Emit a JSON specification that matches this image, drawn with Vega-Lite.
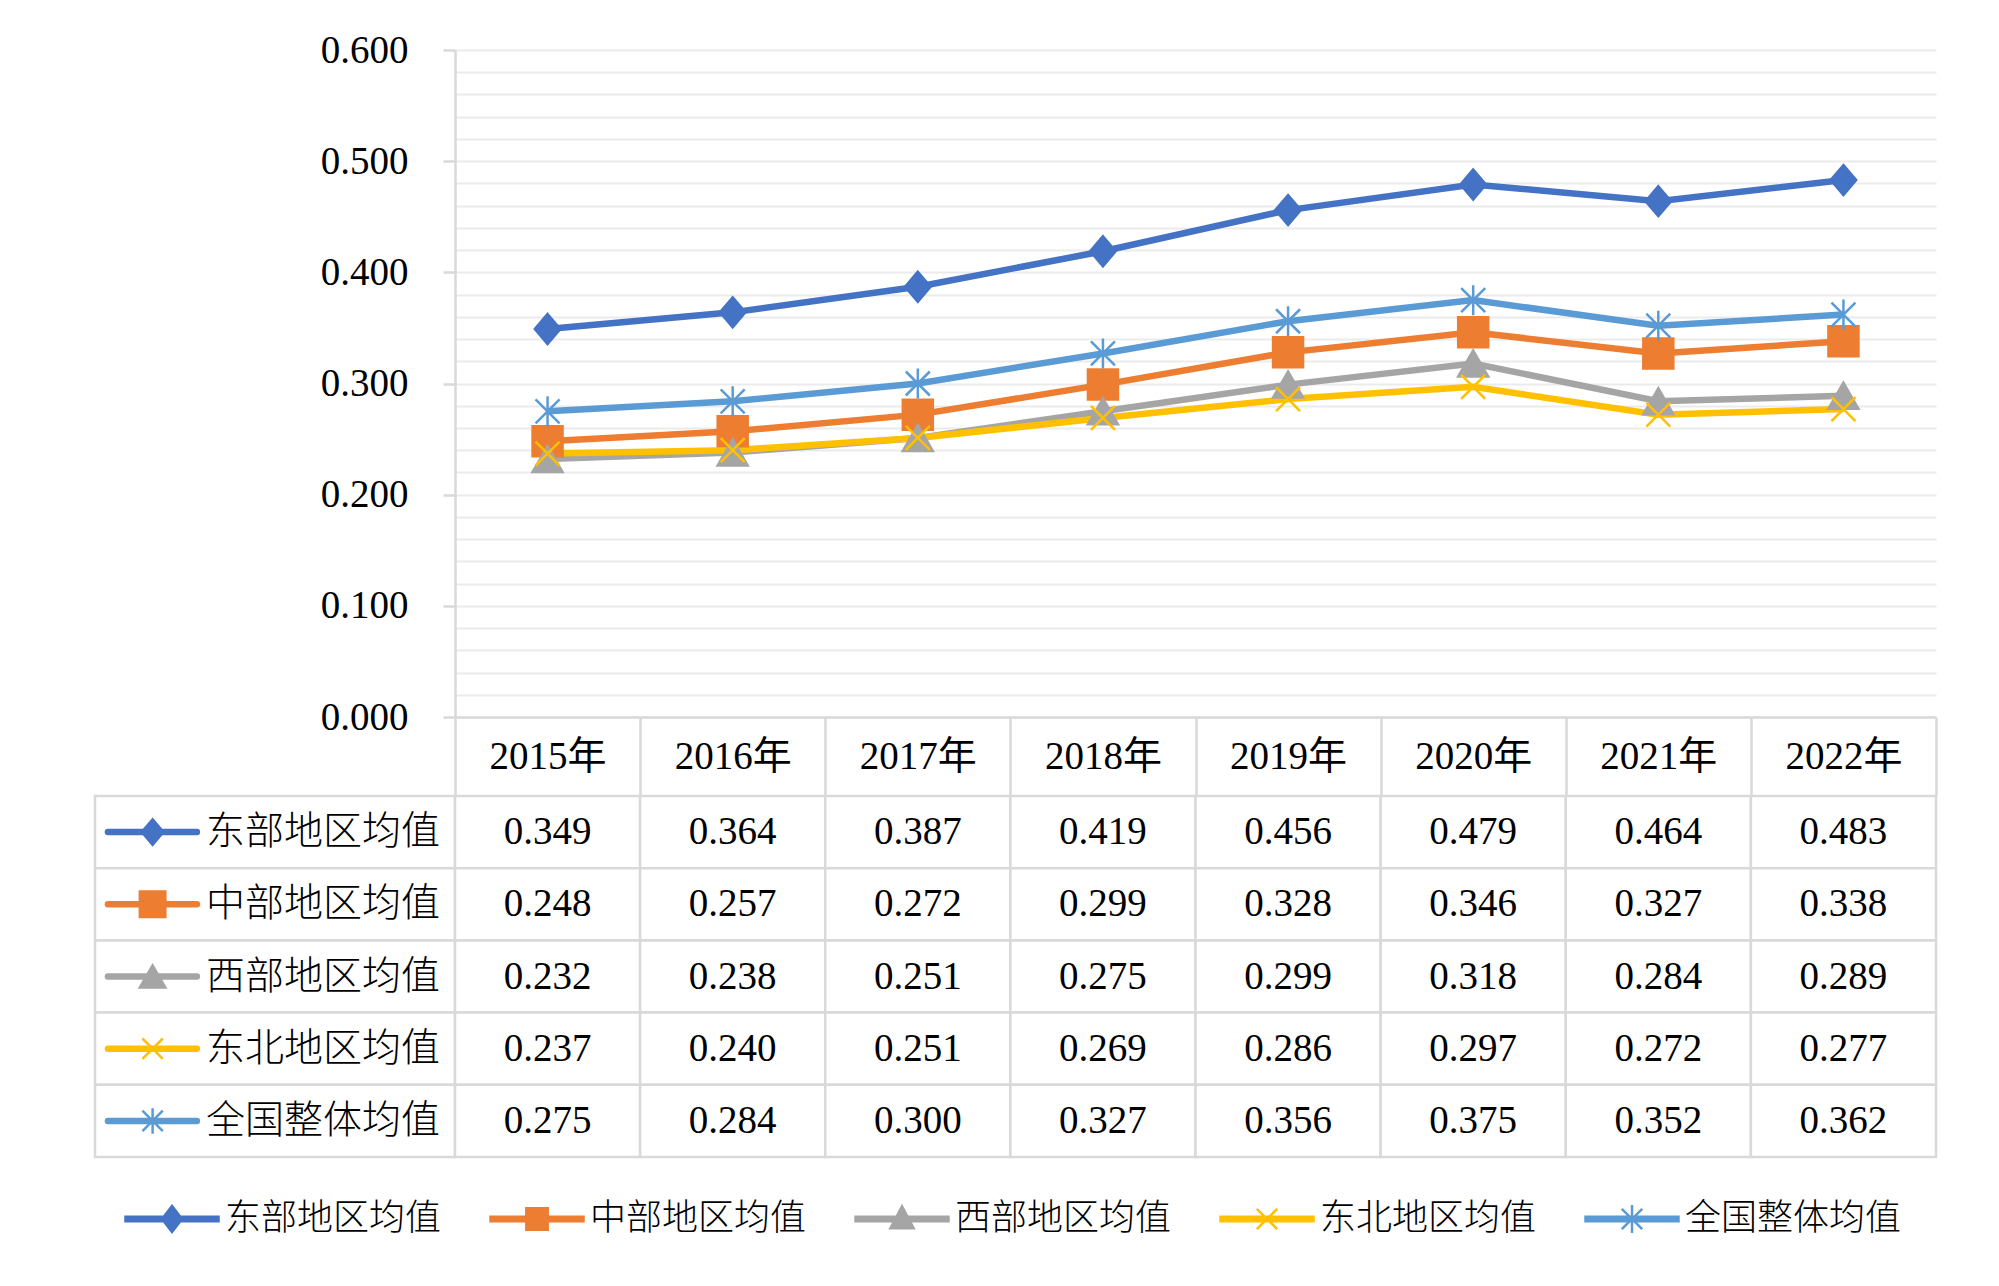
{
  "$schema": "https://vega.github.io/schema/vega-lite/v6.json",
  "background": "white",
  "padding": {"left": 93, "top": 31, "right": 65, "bottom": 38},
  "bounds": "full",
  "spacing": 30,
  "datasets": {
    "vals": [
      {"year": "2015年", "series": "东部地区均值", "value": 0.349},
      {"year": "2016年", "series": "东部地区均值", "value": 0.364},
      {"year": "2017年", "series": "东部地区均值", "value": 0.387},
      {"year": "2018年", "series": "东部地区均值", "value": 0.419},
      {"year": "2019年", "series": "东部地区均值", "value": 0.456},
      {"year": "2020年", "series": "东部地区均值", "value": 0.479},
      {"year": "2021年", "series": "东部地区均值", "value": 0.464},
      {"year": "2022年", "series": "东部地区均值", "value": 0.483},
      {"year": "2015年", "series": "中部地区均值", "value": 0.248},
      {"year": "2016年", "series": "中部地区均值", "value": 0.257},
      {"year": "2017年", "series": "中部地区均值", "value": 0.272},
      {"year": "2018年", "series": "中部地区均值", "value": 0.299},
      {"year": "2019年", "series": "中部地区均值", "value": 0.328},
      {"year": "2020年", "series": "中部地区均值", "value": 0.346},
      {"year": "2021年", "series": "中部地区均值", "value": 0.327},
      {"year": "2022年", "series": "中部地区均值", "value": 0.338},
      {"year": "2015年", "series": "西部地区均值", "value": 0.232},
      {"year": "2016年", "series": "西部地区均值", "value": 0.238},
      {"year": "2017年", "series": "西部地区均值", "value": 0.251},
      {"year": "2018年", "series": "西部地区均值", "value": 0.275},
      {"year": "2019年", "series": "西部地区均值", "value": 0.299},
      {"year": "2020年", "series": "西部地区均值", "value": 0.318},
      {"year": "2021年", "series": "西部地区均值", "value": 0.284},
      {"year": "2022年", "series": "西部地区均值", "value": 0.289},
      {"year": "2015年", "series": "东北地区均值", "value": 0.237},
      {"year": "2016年", "series": "东北地区均值", "value": 0.240},
      {"year": "2017年", "series": "东北地区均值", "value": 0.251},
      {"year": "2018年", "series": "东北地区均值", "value": 0.269},
      {"year": "2019年", "series": "东北地区均值", "value": 0.286},
      {"year": "2020年", "series": "东北地区均值", "value": 0.297},
      {"year": "2021年", "series": "东北地区均值", "value": 0.272},
      {"year": "2022年", "series": "东北地区均值", "value": 0.277},
      {"year": "2015年", "series": "全国整体均值", "value": 0.275},
      {"year": "2016年", "series": "全国整体均值", "value": 0.284},
      {"year": "2017年", "series": "全国整体均值", "value": 0.300},
      {"year": "2018年", "series": "全国整体均值", "value": 0.327},
      {"year": "2019年", "series": "全国整体均值", "value": 0.356},
      {"year": "2020年", "series": "全国整体均值", "value": 0.375},
      {"year": "2021年", "series": "全国整体均值", "value": 0.352},
      {"year": "2022年", "series": "全国整体均值", "value": 0.362}
    ]
  },
  "resolve": {"scale": {"x": "independent", "y": "independent", "shape": "independent"}},
  "vconcat": [
    {
      "bounds": "flush",
      "columns": 2,
      "spacing": {"row": 79, "column": 0},
      "resolve": {"scale": {"x": "independent", "y": "independent"}},
      "concat": [
        {
          "width": 360,
          "height": 667,
          "data": {"values": [{"k": 0}]},
          "mark": {"type": "point", "opacity": 0},
          "encoding": {}
        },
        {
          "width": 1481,
          "height": 667,
          "data": {"name": "vals"},
          "encoding": {
            "x": {
              "field": "year", "type": "ordinal",
              "scale": {"type": "band", "paddingInner": 0, "paddingOuter": 0},
              "axis": {
                "title": null, "tickBand": "extent", "ticks": true, "tickSize": 79,
                "tickColor": "#d9d9d9", "tickWidth": 2.5, "domain": true, "domainColor": "#d9d9d9",
                "domainWidth": 2.5, "grid": false, "labelAngle": 0,
                "labelFont": "'Liberation Serif', 'Noto Sans CJK SC'", "labelFontSize": 39,
                "labelColor": "black", "labelPadding": -40, "labelBaseline": "middle"
              }
            },
            "y": {
              "field": "value", "type": "quantitative",
              "scale": {"domain": [0, 0.6], "nice": false},
              "axis": {
                "title": null,
                "values": [0, 0.02, 0.04, 0.06, 0.08, 0.1, 0.12, 0.14, 0.16, 0.18, 0.2, 0.22, 0.24, 0.26, 0.28, 0.3, 0.32, 0.34, 0.36, 0.38, 0.4, 0.42, 0.44, 0.46, 0.48, 0.5, 0.52, 0.54, 0.56, 0.58, 0.6],
                "grid": true, "gridColor": "#ebebeb", "gridWidth": 2,
                "domain": true, "domainColor": "#d9d9d9", "domainWidth": 2.5,
                "ticks": true, "tickColor": "#d9d9d9", "tickWidth": 2.5, "tickSize": 12,
                "tickOpacity": {"condition": {"test": "abs(datum.value*10 - round(datum.value*10)) < 0.001", "value": 1}, "value": 0},
                "labelExpr": "abs(datum.value*10 - round(datum.value*10)) < 0.001 ? format(datum.value, '.3f') : ''",
                "labelFont": "Liberation Serif", "labelFontSize": 39, "labelColor": "black",
                "labelPadding": 35, "labelOverlap": false, "labelFlush": false
              }
            },
            "color": {
              "field": "series", "type": "nominal",
              "scale": {
                "domain": ["东部地区均值", "中部地区均值", "西部地区均值", "东北地区均值", "全国整体均值"],
                "range": ["#4472C4", "#ED7D31", "#A5A5A5", "#FFC000", "#5B9BD5"]
              },
              "legend": null
            }
          },
          "layer": [
            {"mark": {"type": "line", "strokeWidth": 6.5}},
            {
              "mark": {"type": "point", "filled": true, "size": 900, "opacity": 1, "strokeWidth": 2.5},
              "encoding": {
                "shape": {
                  "field": "series", "type": "nominal",
                  "scale": {
                    "domain": ["东部地区均值", "中部地区均值", "西部地区均值", "东北地区均值", "全国整体均值"],
                    "range": ["M0,-1L0.85,0L0,1L-0.85,0Z", "square", "triangle-up", "M-0.8,-0.8L0.8,0.8M-0.8,0.8L0.8,-0.8", "M-0.8,-0.8L0.8,0.8M-0.8,0.8L0.8,-0.8M0,-1V1"]
                  },
                  "legend": null
                },
                "stroke": {
                  "field": "series", "type": "nominal",
                  "scale": {
                    "domain": ["东部地区均值", "中部地区均值", "西部地区均值", "东北地区均值", "全国整体均值"],
                    "range": ["#4472C4", "#ED7D31", "#A5A5A5", "#FFC000", "#5B9BD5"]
                  },
                  "legend": null
                }
              }
            }
          ]
        },
        {
          "width": 360,
          "height": 361,
          "data": {"name": "vals"},
          "transform": [{"filter": "datum.year === '2015年'"}],
          "encoding": {
            "y": {
              "field": "series", "type": "nominal",
              "scale": {"type": "band", "domain": ["东部地区均值", "中部地区均值", "西部地区均值", "东北地区均值", "全国整体均值"], "paddingInner": 0, "paddingOuter": 0},
              "axis": null
            }
          },
          "layer": [
            {
              "mark": {"type": "rect", "fill": "white", "stroke": "#d9d9d9", "strokeWidth": 2.5},
              "encoding": {
                "x": {"datum": 0, "type": "quantitative", "scale": {"domain": [0, 100], "nice": false, "zero": false}, "axis": null},
                "x2": {"datum": 100}
              }
            },
            {
              "mark": {"type": "rule", "strokeWidth": 6.5, "strokeCap": "round"},
              "encoding": {
                "x": {"datum": 3.6, "type": "quantitative", "scale": {"domain": [0, 100], "nice": false, "zero": false}, "axis": null},
                "x2": {"datum": 28.3},
                "color": {"field": "series", "type": "nominal", "legend": null}
              }
            },
            {
              "mark": {"type": "point", "filled": true, "size": 650, "opacity": 1, "strokeWidth": 2.5},
              "encoding": {
                "x": {"datum": 16, "type": "quantitative", "scale": {"domain": [0, 100], "nice": false, "zero": false}, "axis": null},
                "color": {"field": "series", "type": "nominal", "legend": null},
                "shape": {"field": "series", "type": "nominal", "legend": null},
                "stroke": {"field": "series", "type": "nominal", "legend": null}
              }
            },
            {
              "mark": {"type": "text", "align": "left", "baseline": "middle", "font": "Noto Sans CJK SC", "fontSize": 39, "fontWeight": 300, "color": "black"},
              "encoding": {
                "x": {"datum": 30.8, "type": "quantitative", "scale": {"domain": [0, 100], "nice": false, "zero": false}, "axis": null},
                "text": {"field": "series", "type": "nominal"}
              }
            }
          ]
        },
        {
          "width": 1481,
          "height": 361,
          "data": {"name": "vals"},
          "encoding": {
            "x": {"field": "year", "type": "ordinal", "scale": {"type": "band", "paddingInner": 0, "paddingOuter": 0}, "axis": null},
            "y": {
              "field": "series", "type": "nominal",
              "scale": {"type": "band", "domain": ["东部地区均值", "中部地区均值", "西部地区均值", "东北地区均值", "全国整体均值"], "paddingInner": 0, "paddingOuter": 0},
              "axis": null
            }
          },
          "layer": [
            {"mark": {"type": "rect", "fill": "white", "stroke": "#d9d9d9", "strokeWidth": 2.5}},
            {
              "mark": {"type": "text", "font": "Liberation Serif", "fontSize": 39, "color": "black", "baseline": "middle"},
              "encoding": {"text": {"field": "value", "type": "quantitative", "format": ".3f"}}
            }
          ]
        }
      ]
    },
    {
      "width": 1825,
      "height": 60,
      "data": {"name": "vals"},
      "transform": [{"filter": "datum.year === '2015年'"}],
      "encoding": {
        "x": {
          "field": "series", "type": "nominal",
          "scale": {"type": "band", "domain": ["东部地区均值", "中部地区均值", "西部地区均值", "东北地区均值", "全国整体均值"], "paddingInner": 0, "paddingOuter": 0},
          "axis": null
        }
      },
      "layer": [
        {
          "mark": {"type": "rect", "fill": "white", "opacity": 0}
        },
        {
          "mark": {"type": "point", "filled": true, "size": 8649, "opacity": 1, "strokeWidth": 2.5},
          "encoding": {
            "x": {"field": "series", "type": "nominal", "bandPosition": 0.211},
            "color": {"field": "series", "type": "nominal", "legend": null},
            "stroke": {"field": "series", "type": "nominal", "legend": null},
            "shape": {
              "field": "series", "type": "nominal",
              "scale": {
                "domain": ["东部地区均值", "中部地区均值", "西部地区均值", "东北地区均值", "全国整体均值"],
                "range": [
                  "M-1,-0.05H1V0.05H-1ZM0,-0.28L0.215,0L0,0.28L-0.215,0Z",
                  "M-1,-0.05H1V0.05H-1ZM-0.23,-0.23H0.23V0.23H-0.23Z",
                  "M-1,-0.05H1V0.05H-1ZM0,-0.27L0.25,0.2H-0.25Z",
                  "M-1,-0.05H1V0.05H-1ZM-0.22,-0.22L0.22,0.22M-0.22,0.22L0.22,-0.22",
                  "M-1,-0.05H1V0.05H-1ZM-0.22,-0.22L0.22,0.22M-0.22,0.22L0.22,-0.22M0,-0.3V0.3"
                ]
              },
              "legend": null
            }
          }
        },
        {
          "mark": {"type": "text", "align": "left", "baseline": "middle", "font": "Noto Sans CJK SC", "fontSize": 36, "fontWeight": 300, "color": "black"},
          "encoding": {
            "x": {"field": "series", "type": "nominal", "bandPosition": 0.356},
            "text": {"field": "series", "type": "nominal"}
          }
        }
      ]
    }
  ],
  "config": {"view": {"stroke": null}}
}
